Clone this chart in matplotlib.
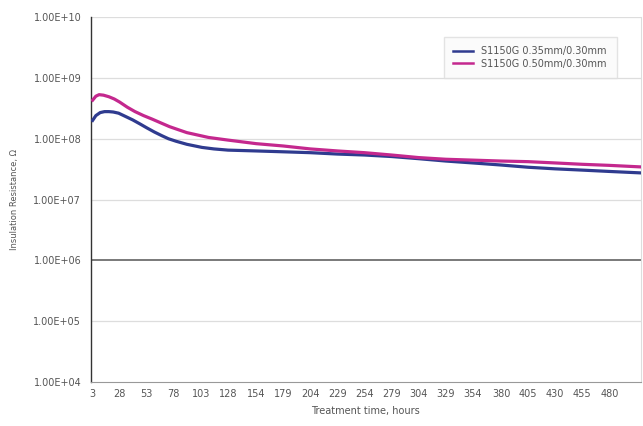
import matplotlib
matplotlib.use('Agg')

import numpy as np
import matplotlib.pyplot as plt
from matplotlib.ticker import FixedLocator, NullLocator

# treatment time (hours) and insulation resistance (ohm)
hours_035 = [3, 6, 10, 14, 18, 22, 27, 33, 40, 47, 53, 60, 67, 73, 80, 90, 104,
             115, 128, 154, 179, 204, 229, 254, 279, 304, 329, 354, 380, 405,
             430, 455, 480, 508]
res_035 = [2.0e8, 2.4e8, 2.69e8, 2.79e8, 2.79e8, 2.75e8, 2.63e8, 2.34e8, 2.04e8,
           1.74e8, 1.51e8, 1.29e8, 1.12e8, 1.0e8, 9.1e7, 8.1e7, 7.2e7, 6.8e7,
           6.5e7, 6.3e7, 6.1e7, 5.9e7, 5.6e7, 5.4e7, 5.1e7, 4.7e7, 4.3e7, 4.0e7,
           3.7e7, 3.4e7, 3.2e7, 3.05e7, 2.9e7, 2.75e7]
hours_050 = [3, 6, 9, 13, 18, 23, 28, 35, 42, 50, 58, 66, 74, 82, 90, 100, 110,
             128, 154, 179, 204, 229, 254, 279, 304, 329, 354, 380, 405, 430,
             455, 480, 508]
res_050 = [4.3e8, 5.0e8, 5.3e8, 5.2e8, 4.9e8, 4.5e8, 4.0e8, 3.3e8, 2.8e8, 2.4e8,
           2.1e8, 1.82e8, 1.58e8, 1.41e8, 1.26e8, 1.15e8, 1.05e8, 9.5e7, 8.3e7,
           7.6e7, 6.8e7, 6.3e7, 5.9e7, 5.4e7, 4.9e7, 4.6e7, 4.45e7, 4.3e7, 4.2e7,
           4.0e7, 3.8e7, 3.65e7, 3.45e7]
labels = ['S1150G 0.35mm/0.30mm', 'S1150G 0.50mm/0.30mm']
x_ticks = [3, 28, 53, 78, 103, 128, 154, 179, 204, 229, 254, 279, 304, 329,
           354, 380, 405, 430, 455, 480]
y_ticks = [1e4, 1e5, 1e6, 1e7, 1e8, 1e9, 1e10]
y_ticklabels = ['1.00E+04', '1.00E+05', '1.00E+06', '1.00E+07', '1.00E+08',
                '1.00E+09', '1.00E+10']

fig = plt.figure(figsize=(6.43, 4.26), dpi=100)
ax = fig.add_axes([0.1415, 0.103, 0.855, 0.857])

ax.plot(hours_035, res_035, color='#2f3b8f', lw=2.3, label=labels[0], zorder=3)
ax.plot(hours_050, res_050, color='#c4288e', lw=2.3, label=labels[1], zorder=3)

ax.set_yscale('log')
ax.set_ylim(1e4, 1e10)
ax.set_xlim(1.5, 509)
ax.yaxis.set_major_locator(FixedLocator(y_ticks))
ax.yaxis.set_minor_locator(NullLocator())
ax.set_yticklabels(y_ticklabels)
ax.set_xticks(x_ticks)

# light grid, with the 1E+06 line drawn dark
for y in y_ticks[1:]:
    if y == 1e6:
        ax.axhline(y, color='#555555', lw=1.1, zorder=2)
    else:
        ax.axhline(y, color='#dddddd', lw=0.9, zorder=1)

ax.tick_params(axis='both', length=0, labelsize=7, colors='#555555')
ax.tick_params(axis='y', pad=7)
ax.tick_params(axis='x', pad=5)

ax.spines['left'].set_color('#333333')
ax.spines['left'].set_linewidth(1.0)
ax.spines['bottom'].set_color('#999999')
ax.spines['top'].set_visible(False)
ax.spines['right'].set_color('#dddddd')

ax.set_xlabel('Treatment time, hours', fontsize=7, color='#555555', labelpad=5)
ax.set_ylabel('Insulation Resistance, Ω', fontsize=6, color='#555555', labelpad=10)

leg = ax.legend(loc='upper right', bbox_to_anchor=(0.965, 0.96), fontsize=7,
                handlelength=2.0, handletextpad=0.9, frameon=True, fancybox=False,
                borderpad=1.0, labelspacing=0.25)
leg.get_frame().set_edgecolor('#dddddd')
leg.get_frame().set_facecolor('#fbfbfb')
for t in leg.get_texts():
    t.set_color('#555555')
for h in leg.get_lines():
    h.set_linewidth(1.8)

fig.savefig('out.png', dpi=100, facecolor='white')
